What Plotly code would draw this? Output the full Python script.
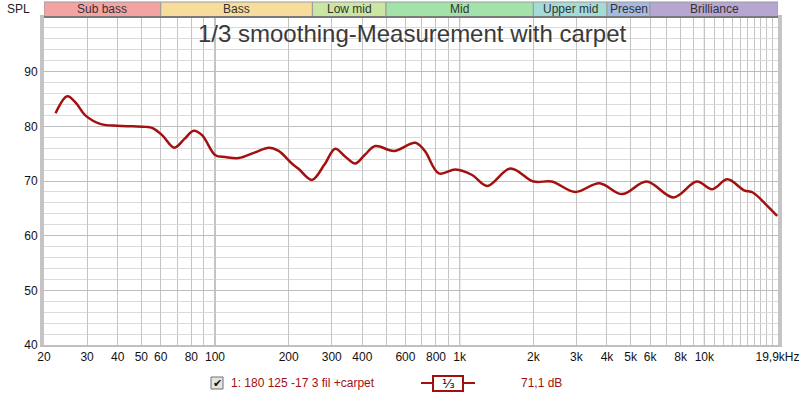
import math
import plotly.graph_objects as go

# ---- data ----
freq_hz = [22.3, 24.9, 27.0, 29.5, 34.2, 39.8, 46, 52.3, 55.3, 60.8, 68.2, 75, 81.8, 88.5,
           100.4, 110, 125, 145, 166, 182, 206, 220, 249, 280, 310, 340, 374, 410, 452,
           539, 659, 720, 822, 962, 1124, 1296, 1612, 2004, 2378, 2972, 3726, 4607,
           5804, 7477, 9317, 10760, 12420, 14530, 15780, 17950, 19850]
spl_db = [82.4, 85.5, 84.3, 82.0, 80.4, 80.1, 80.0, 79.9, 79.7, 78.4, 76.1, 77.7, 79.2, 78.4,
          74.7, 74.4, 74.2, 75.2, 76.1, 75.5, 73.2, 72.2, 70.2, 73.0, 75.9, 74.5, 73.2, 74.8, 76.4,
          75.5, 77.0, 75.5, 71.4, 72.1, 71.1, 69.1, 72.3, 69.9, 69.9, 68.0, 69.6, 67.6,
          69.9, 67.0, 69.9, 68.5, 70.3, 68.3, 67.9, 65.6, 63.6]

x_tick_vals = [20, 30, 40, 50, 60, 80, 100, 200, 300, 400, 600, 800, 1000, 2000, 3000,
               4000, 5000, 6000, 8000, 10000, 19900]
x_tick_text = ["20", "30", "40", "50", "60", "80", "100", "200", "300", "400", "600", "800",
               "1k", "2k", "3k", "4k", "5k", "6k", "8k", "10k", "19,9kHz"]
x_minor_vals = [70, 90, 500, 700, 900, 7000, 9000] + [k * 1000 for k in range(11, 20)]
x_major_lines = [100, 1000, 10000]
y_tick_vals = [40, 50, 60, 70, 80, 90]

band_names = ["Sub bass", "Bass", "Low mid", "Mid", "Upper mid", "Presen", "Brilliance"]
band_edges = [20, 60, 250, 500, 2000, 4000, 6000, 20000]
band_colors = ["#f4a3a3", "#f8dc9c", "#cbe6a2", "#a3e2a9", "#a3dcd6", "#a6b9e0", "#b8a6d2"]

title_text = "1/3 smoothing-Measurement with carpet"
legend_label = "1: 180 125 -17 3 fil +carpet"
legend_value = "71,1 dB"
smoothing_label = "¹⁄₃"

# ---- geometry ----
W, H = 800, 398
ML, MR, MT, MB = 44, 22, 17, 53
PW, PH = W - ML - MR, H - MT - MB


def px(xp):
    return (xp - ML) / PW


def py(yp):
    return (H - MB - yp) / PH


FONT = "Liberation Sans, Arial, sans-serif"
RED = "#a31010"

fig = go.Figure()
fig.add_trace(go.Scatter(x=freq_hz, y=spl_db, mode="lines",
                         line=dict(color=RED, width=2.5, shape="spline", smoothing=1.0),
                         hoverinfo="x+y", showlegend=False))

shapes = []
for f in x_major_lines:
    shapes.append(dict(type="line", xref="x", yref="paper", x0=f, x1=f, y0=0, y1=1,
                       line=dict(color="#8a8a8a", width=1), layer="below"))
for i, name in enumerate(band_names):
    shapes.append(dict(type="rect", xref="x", yref="paper",
                       x0=band_edges[i], x1=band_edges[i + 1],
                       y0=py(16.5), y1=py(2), fillcolor=band_colors[i],
                       line=dict(color="#9a9a9a", width=1), layer="above"))
shapes.append(dict(type="line", xref="paper", yref="paper", x0=0, x1=1, y0=py(17), y1=py(17),
                   line=dict(color="#7a7a7a", width=2)))
shapes.append(dict(type="rect", xref="paper", yref="paper", x0=px(211), x1=px(223),
                   y0=py(389), y1=py(377), fillcolor="#e4e4e4",
                   line=dict(color="#707070", width=1)))
shapes.append(dict(type="line", xref="paper", yref="paper", x0=px(421), x1=px(475),
                   y0=py(383), y1=py(383), line=dict(color=RED, width=2)))
shapes.append(dict(type="rect", xref="paper", yref="paper", x0=px(433), x1=px(463),
                   y0=py(391), y1=py(376), fillcolor="white",
                   line=dict(color=RED, width=2)))


def ann(xv, yv, text, size=12, color="#333333", xref="paper", xanchor="center", family=FONT):
    return dict(x=xv, y=yv, xref=xref, yref="paper", text=text, showarrow=False,
                xanchor=xanchor, yanchor="middle",
                font=dict(family=family, size=size, color=color))


annotations = []
for i, name in enumerate(band_names):
    mid = math.sqrt(band_edges[i] * band_edges[i + 1])
    annotations.append(ann(math.log10(mid), py(9.5), name, 12, "#333333", xref="x"))
annotations += [
    ann(px(412), py(33), title_text, 24, "#3a3a3a"),
    ann(px(19), py(9), "SPL", 12, "#222222"),
    ann(px(217), py(383), "✔", 11, "#111111", family="DejaVu Sans"),
    ann(px(229), py(383), legend_label, 12, RED, xanchor="left"),
    ann(px(448), py(383), smoothing_label, 13, "#111111", family="DejaVu Sans"),
    ann(px(519), py(383), legend_value, 12, RED, xanchor="left"),
]

fig.update_layout(
    width=W, height=H,
    margin=dict(l=ML, r=MR, t=MT, b=MB, pad=0, autoexpand=False),
    paper_bgcolor="white", plot_bgcolor="white",
    showlegend=False,
    shapes=shapes, annotations=annotations,
    xaxis=dict(type="log", range=[math.log10(20), math.log10(20000)], automargin=False,
               tickvals=x_tick_vals, ticktext=x_tick_text, ticks="",
               showgrid=True, gridcolor="#c4c4c4", gridwidth=1,
               minor=dict(tickvals=x_minor_vals, showgrid=True, gridcolor="#c4c4c4", ticks=""),
               showline=True, linecolor="#c0c0c0", linewidth=2, mirror=True,
               zeroline=False, tickfont=dict(family=FONT, size=12, color="#111111")),
    yaxis=dict(range=[40, 100], tickvals=y_tick_vals, ticks="", automargin=False,
               showgrid=True, gridcolor="#bdbdbd", gridwidth=1,
               minor=dict(dtick=2, showgrid=True, gridcolor="#dadada", ticks=""),
               showline=True, linecolor="#c4c4c4", linewidth=4, mirror=True,
               zeroline=False, tickfont=dict(family=FONT, size=12, color="#111111")),
)

fig.write_html("out.html", config={"displayModeBar": False},
               post_script="document.body.style.margin='0';")
